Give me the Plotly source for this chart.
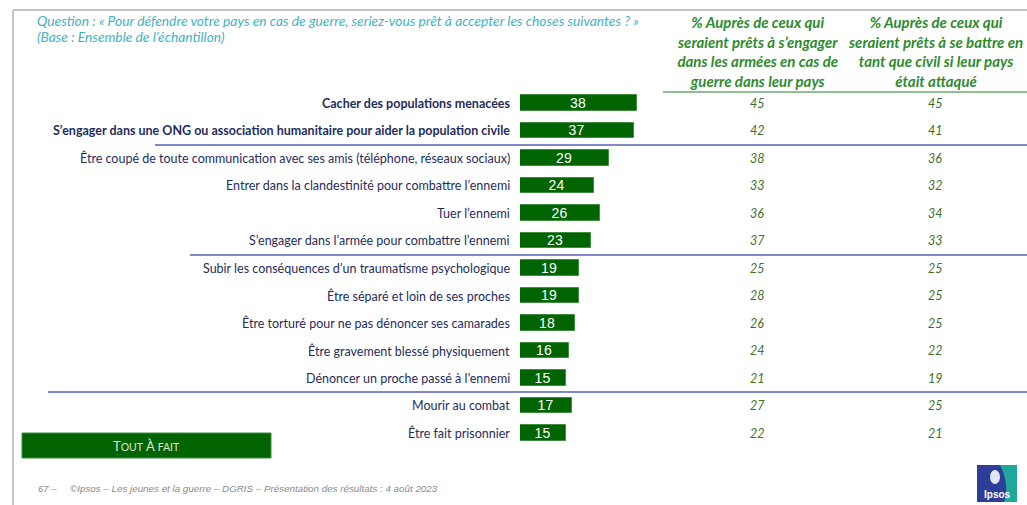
import plotly.graph_objects as go

# Items asked about, top to bottom
items = [
    "Cacher des populations menacées",
    "S’engager dans une ONG ou association humanitaire pour aider la population civile",
    "Être coupé de toute communication avec ses amis (téléphone, réseaux sociaux)",
    "Entrer dans la clandestinité pour combattre l’ennemi",
    "Tuer l’ennemi",
    "S’engager dans l’armée pour combattre l’ennemi",
    "Subir les conséquences d’un traumatisme psychologique",
    "Être séparé et loin de ses proches",
    "Être torturé pour ne pas dénoncer ses camarades",
    "Être gravement blessé physiquement",
    "Dénoncer un proche passé à l’ennemi",
    "Mourir au combat",
    "Être fait prisonnier",
]
bold_items = [True, True] + [False] * 11

# % "Tout à fait" (whole sample)
tout_a_fait = [38, 37, 29, 24, 26, 23, 19, 19, 18, 16, 15, 17, 15]
# % among those ready to join the armed forces
pret_armee = [45, 42, 38, 33, 36, 37, 25, 28, 26, 24, 21, 27, 22]
# % among those ready to fight as civilians
pret_civil = [45, 41, 36, 32, 34, 33, 25, 25, 25, 22, 19, 25, 21]

col_headers = [
    "% Auprès de ceux qui<br>seraient prêts à s’engager<br>dans les armées en cas de<br>guerre dans leur pays",
    "% Auprès de ceux qui<br>seraient prêts à se battre en<br>tant que civil si leur pays<br>était attaqué",
]
question = "Question : « Pour défendre votre pays en cas de guerre, seriez-vous prêt à accepter les choses suivantes ? »"
base = "(Base : Ensemble de l’échantillon)"
footer = "©Ipsos – Les jeunes et la guerre – DGRIS – Présentation des résultats : 4 août 2023"
page_no = "67 –"

W, H = 1027, 505
ROW0, ROW_STEP = 103, 27.5      # pixel centre of first row, row spacing
BAR_X0, PX_PER_PT = 520, 3.08   # bar origin and scale

def px(x):
    return x / W

def py(y):
    return 1 - y / H

rows = list(range(len(items)))

fig = go.Figure(
    go.Bar(
        x=tout_a_fait,
        y=rows,
        orientation="h",
        width=0.58,
        marker=dict(color="#006400", line=dict(color="#3f8f3f", width=1)),
        text=[str(v) for v in tout_a_fait],
        textposition="inside",
        insidetextanchor="middle",
        textangle=0,
        constraintext="none",
        textfont=dict(color="white", size=14, family="Arial"),
        hoverinfo="skip",
    )
)

annotations = []
label_font = "Lato"
for i, (lab, b) in enumerate(zip(items, bold_items)):
    annotations.append(dict(
        x=px(512), xref="paper", y=i, yref="y", xanchor="right", yanchor="middle",
        text=f"<b>{lab}</b>" if b else lab, showarrow=False,
        font=dict(family=label_font, size=12.5, color="#1f2d5c"),
    ))
    annotations.append(dict(
        x=px(757), xref="paper", y=i, yref="y", xanchor="center", yanchor="middle",
        text=f"<i>{pret_armee[i]}</i>", showarrow=False,
        font=dict(family=label_font, size=12.5, color="#3f6f2a"),
    ))
    annotations.append(dict(
        x=px(935), xref="paper", y=i, yref="y", xanchor="center", yanchor="middle",
        text=f"<i>{pret_civil[i]}</i>", showarrow=False,
        font=dict(family=label_font, size=12.5, color="#3f6f2a"),
    ))

# Column headers
for cx, txt in zip([757, 935], col_headers):
    annotations.append(dict(
        x=px(cx), xref="paper", y=py(51.5), yref="paper", xanchor="center", yanchor="middle",
        text=f"<b><i>{txt}</i></b>", showarrow=False, align="center",
        font=dict(family=label_font, size=15, color="#2e8b2e"),
    ))

# Question and base
annotations.append(dict(
    x=px(35), xref="paper", y=py(20), yref="paper", xanchor="left", yanchor="middle",
    text=f"<i>{question}</i>", showarrow=False,
    font=dict(family=label_font, size=13.8, color="#3fb3c3"),
))
annotations.append(dict(
    x=px(35), xref="paper", y=py(37), yref="paper", xanchor="left", yanchor="middle",
    text=f"<i>{base}</i>", showarrow=False,
    font=dict(family=label_font, size=13.8, color="#3fb3c3"),
))

# Legend box label
annotations.append(dict(
    x=px(146), xref="paper", y=py(446), yref="paper", xanchor="center", yanchor="middle",
    text="T<span style='font-size:10.5px'>OUT</span> À <span style='font-size:10.5px'>FAIT</span>",
    showarrow=False, font=dict(family=label_font, size=13, color="#dcebd3"),
))

# Footer
annotations.append(dict(
    x=px(36), xref="paper", y=py(488), yref="paper", xanchor="left", yanchor="middle",
    text=f"<i>{page_no}</i>", showarrow=False,
    font=dict(family="Arial", size=9.5, color="#8a8a8a"),
))
annotations.append(dict(
    x=px(68), xref="paper", y=py(488), yref="paper", xanchor="left", yanchor="middle",
    text=f"<i>{footer}</i>", showarrow=False,
    font=dict(family="Arial", size=9.8, color="#8a8a8a"),
))

# Ipsos logo text
annotations.append(dict(
    x=px(997), xref="paper", y=py(494), yref="paper", xanchor="center", yanchor="middle",
    text="<b>Ipsos</b>", showarrow=False,
    font=dict(family="Arial", size=10, color="white"),
))

shapes = []
# Slide frame
shapes.append(dict(type="line", xref="paper", yref="paper", x0=px(13), x1=1, y0=py(10), y1=py(10),
                   line=dict(color="#c4c4c4", width=2)))
shapes.append(dict(type="line", xref="paper", yref="paper", x0=px(13), x1=px(13), y0=py(10), y1=0,
                   line=dict(color="#c4c4c4", width=2)))
# Green rule under column headers
shapes.append(dict(type="line", xref="paper", yref="paper", x0=px(663), x1=1, y0=py(92), y1=py(92),
                   line=dict(color="#8fc08f", width=2)))
# Group separators
for y, x0 in [(145, 155), (255, 190), (392, 48)]:
    shapes.append(dict(type="line", xref="paper", yref="paper", x0=px(x0), x1=1, y0=py(y), y1=py(y),
                       line=dict(color="#8088c8", width=2)))
# Legend box
shapes.append(dict(type="rect", xref="paper", yref="paper", x0=px(22), x1=px(271), y0=py(458), y1=py(433),
                   fillcolor="#006400", line=dict(color="#3f8f3f", width=1)))
# Ipsos logo
shapes.append(dict(type="rect", xref="paper", yref="paper", x0=px(977), x1=px(1017), y0=py(502), y1=py(465),
                   fillcolor="#2d3e98", line=dict(width=0)))
shapes.append(dict(type="path", xref="paper", yref="paper",
                   path=f"M {px(1000)},{py(465)} L {px(1017)},{py(465)} L {px(1017)},{py(502)} "
                        f"L {px(1004)},{py(502)} Q {px(1010)},{py(485)} {px(1000)},{py(465)} Z",
                   fillcolor="#20a79c", line=dict(width=0)))
shapes.append(dict(type="circle", xref="paper", yref="paper", x0=px(990), x1=px(1000), y0=py(484), y1=py(470),
                   fillcolor="#dfe6ef", line=dict(width=0)))

fig.update_layout(
    width=W, height=H,
    margin=dict(l=0, r=0, t=0, b=0),
    paper_bgcolor="white", plot_bgcolor="white",
    showlegend=False,
    xaxis=dict(domain=[px(BAR_X0), 1], range=[0, (W - BAR_X0) / PX_PER_PT], visible=False, fixedrange=True),
    yaxis=dict(domain=[0, 1], range=[(H - ROW0) / ROW_STEP, -ROW0 / ROW_STEP], visible=False, fixedrange=True),
    annotations=annotations,
    shapes=shapes,
    bargap=0,
)

fig.write_html("out.html")
